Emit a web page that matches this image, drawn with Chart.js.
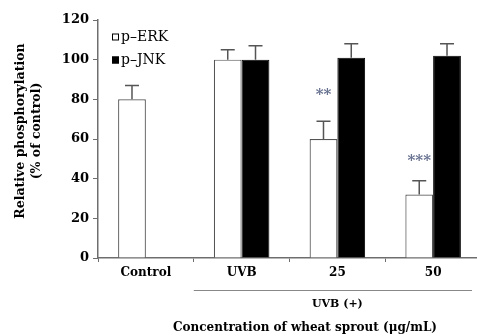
<!DOCTYPE html>
<html>
<head>
<meta charset="utf-8">
<script src="https://cdn.jsdelivr.net/npm/chart.js@4"></script>
<style>
  html, body { margin: 0; padding: 0; background: #fff; overflow: hidden; }
  #wrap { width: 484px; height: 336px; position: relative; }
</style>
</head>
<body>
<div id="wrap"><canvas id="chart"></canvas></div>
<script>
// chart values
const categories = ['Control', 'UVB', '25', '50'];
const erkValues = [80, 100, 60, 32];
const erkErrors = [7, 5, 9, 7];
const jnkValues = [null, 100, 101, 102];
const jnkErrors = [null, 7, 7, 6];
const sigLabels = [null, null, '**', '***'];
const sigLevels = [null, null, 82, 49];   // y value where the stars sit
const yTicks = [0, 20, 40, 60, 80, 100, 120];

const serif = '"DejaVu Serif", "Liberation Serif", serif';
const axisGray = '#6e6e6e';

// error bars (upper half only) + stars
const errorBars = {
    id: 'errorBars',
    afterDatasetsDraw(chart) {
        const { ctx, scales: { y } } = chart;
        const errs = [erkErrors, jnkErrors];
        ctx.save();
        ctx.strokeStyle = '#555';
        ctx.lineWidth = 1.5;
        chart.data.datasets.forEach((ds, di) => {
            const meta = chart.getDatasetMeta(di);
            meta.data.forEach((bar, i) => {
                const v = ds.data[i];
                const e = errs[di][i];
                if (v == null || e == null) return;
                const x = bar.x;
                const top = y.getPixelForValue(v + e);
                const base = y.getPixelForValue(v);
                ctx.beginPath();
                ctx.moveTo(x, base);
                ctx.lineTo(x, top);
                ctx.moveTo(x - 7, top);
                ctx.lineTo(x + 7, top);
                ctx.stroke();
            });
        });
        // significance marks over the p-ERK bars
        const erkMeta = chart.getDatasetMeta(0);
        ctx.fillStyle = '#66708f';
        ctx.font = 'bold 15px ' + serif;
        ctx.textAlign = 'center';
        ctx.textBaseline = 'middle';
        sigLabels.forEach((s, i) => {
            if (!s) return;
            ctx.fillText(s, erkMeta.data[i].x, y.getPixelForValue(sigLevels[i]));
        });
        ctx.restore();
    }
};

// legend, axis titles and the UVB(+) bracket
const decorations = {
    id: 'decorations',
    afterDraw(chart) {
        const { ctx, chartArea, scales: { x } } = chart;
        ctx.save();
        // legend
        const items = [
            { label: 'p\u2013ERK', fill: '#fff', y: 37 },
            { label: 'p\u2013JNK', fill: '#000', y: 60 }
        ];
        ctx.font = '14px ' + serif;
        ctx.textBaseline = 'middle';
        ctx.textAlign = 'left';
        items.forEach(it => {
            ctx.fillStyle = it.fill;
            ctx.fillRect(112, it.y - 3.5, 7, 7);
            ctx.strokeStyle = '#000';
            ctx.lineWidth = 1;
            ctx.strokeRect(112.5, it.y - 3, 6, 6);
            ctx.fillStyle = '#000';
            ctx.fillText(it.label, 121, it.y);
        });

        // y axis title
        ctx.save();
        ctx.translate(29, 131);
        ctx.rotate(-Math.PI / 2);
        ctx.textAlign = 'center';
        ctx.font = 'bold 12.5px ' + serif;
        ctx.fillText('Relative phosphorylation', 0, -8);
        ctx.fillText('(% of control)', 0, 8);
        ctx.restore();

        // UVB(+) bracket line
        const half = (x.getPixelForValue(1) - x.getPixelForValue(0)) / 2;
        const x0 = x.getPixelForValue(1) - half;
        ctx.strokeStyle = '#888';
        ctx.lineWidth = 1;
        ctx.beginPath();
        ctx.moveTo(x0, 290.5);
        ctx.lineTo(472, 290.5);
        ctx.stroke();

        ctx.fillStyle = '#000';
        ctx.textAlign = 'center';
        ctx.font = 'bold 11px ' + serif;
        ctx.fillText('UVB (+)', x.getPixelForValue(2), 304);
        ctx.font = 'bold 12px ' + serif;
        ctx.fillText('Concentration of wheat sprout (\u03bcg/mL)', 305, 328);
        ctx.restore();
    }
};

new Chart(document.getElementById('chart'), {
    type: 'bar',
    data: {
        labels: categories,
        datasets: [
            {
                label: 'p-ERK',
                data: erkValues,
                backgroundColor: '#fff',
                borderColor: '#555',
                borderWidth: 1.2
            },
            {
                label: 'p-JNK',
                data: jnkValues,
                backgroundColor: '#000',
                borderColor: '#000',
                borderWidth: 1
            }
        ]
    },
    options: {
        responsive: true,
        maintainAspectRatio: false,
        animation: false,
        layout: { padding: { top: 20, right: 3, left: 0, bottom: 0 } },
        datasets: {
            bar: { categoryPercentage: 0.58, barPercentage: 1.0 }
        },
        plugins: {
            legend: { display: false },
            tooltip: { enabled: false }
        },
        scales: {
            x: {
                offset: true,
                afterFit: s => { s.height = 78; },
                grid: {
                    offset: true,
                    drawOnChartArea: false,
                    color: axisGray,
                    tickLength: 4
                },
                border: { color: axisGray, width: 1.5 },
                ticks: {
                    color: '#000',
                    padding: 4,
                    font: { family: serif, size: 12, weight: 'bold' }
                }
            },
            y: {
                min: 0,
                max: 120,
                afterFit: s => { s.width = 98; },
                afterBuildTicks: s => { s.ticks = yTicks.map(v => ({ value: v })); },
                grid: {
                    drawOnChartArea: false,
                    color: axisGray,
                    tickLength: 5
                },
                border: { color: axisGray, width: 1.5 },
                ticks: {
                    color: '#000',
                    padding: 4,
                    font: { family: serif, size: 13, weight: 'bold' }
                }
            }
        }
    },
    plugins: [errorBars, decorations]
});
</script>
</body>
</html>
